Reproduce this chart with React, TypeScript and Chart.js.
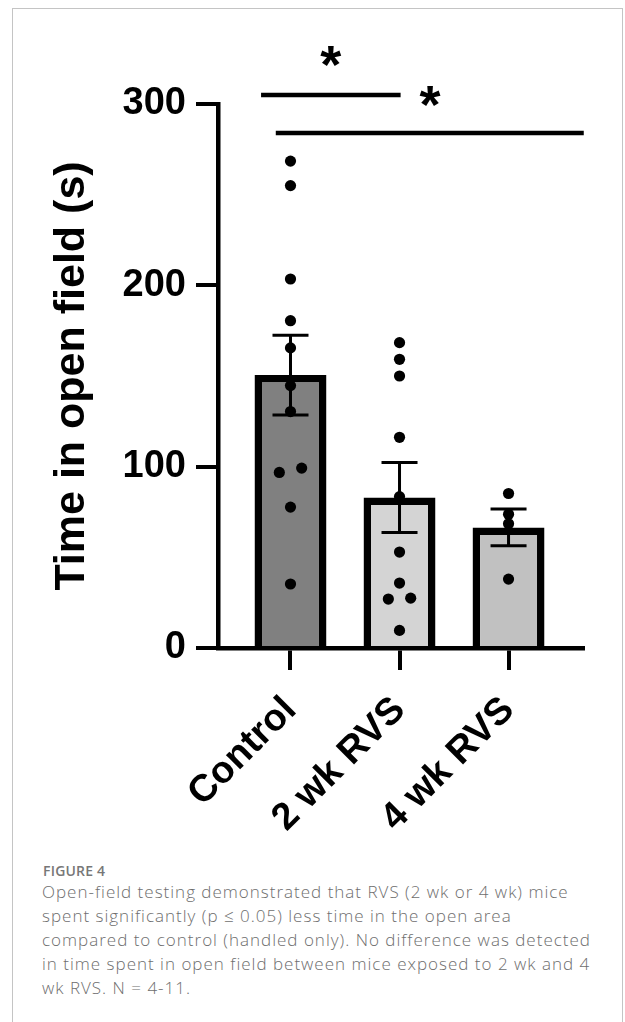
import React, { useEffect, useRef } from 'react';
import { Chart, registerables } from 'chart.js';

Chart.register(...registerables);

// ---------- data ----------
const categories = ['Control', '2 wk RVS', '4 wk RVS'];
const barMeans = [150.5, 83, 66.5];
const barSems = [22, 19.3, 10.1];
const controlValues = [268.5, 255, 203.5, 180.5, 165.5, 144.7, 130.4, 99.2, 96.8, 77.7, 35.3];
const wk2Values = [168.4, 159.2, 150, 116.2, 83.5, 52.9, 35.8, 27.5, 27, 9.7];
const wk4Values = [85.2, 73.8, 68.5, 38];
const groupValues = [controlValues, wk2Values, wk4Values];
const yTickValues = [0, 100, 200, 300];
const yAxisTitle = 'Time in open field (s)';

// significance annotations (in data units)
const sigLineFrom = [-0.27, -0.135];
const sigLineTo = [1.01, 2.69];
const sigLineY = [305, 284];
const sigStarX = [0.37, 1.28];
const sigStarY = [326, 304];
const sigLabel = ['*', '*'];

const captionTitle = 'FIGURE 4';
const captionLines = [
  'Open-field testing demonstrated that RVS (2 wk or 4 wk) mice',
  'spent significantly (p \u2264 0.05) less time in the open area',
  'compared to control (handled only). No difference was detected',
  'in time spent in open field between mice exposed to 2 wk and 4',
  'wk RVS. N = 4-11.',
];

// ---------- styles ----------
const barColors = ['#808080', '#d4d4d4', '#c1c1c1'];
const FONT = '"Liberation Sans", Arial, Helvetica, sans-serif';

function jitterOffsets(vals: number[]): number[] {
  const idx = vals.map((_, i) => i).sort((a, b) => vals[a] - vals[b]);
  const out = new Array(vals.length).fill(0);
  let start = 0;
  for (let k = 1; k <= idx.length; k++) {
    if (k === idx.length || vals[idx[k]] - vals[idx[k - 1]] >= 4) {
      const n = k - start;
      for (let j = 0; j < n; j++) out[idx[start + j]] = (j - (n - 1) / 2) * 0.205;
      start = k;
    }
  }
  return out;
}

const overlayPlugin = {
  id: 'overlay',
  afterDatasetDraw(chart: any, args: any) {
    if (args.index !== 1) return;
    const { ctx } = chart;
    const xs = chart.scales.x;
    const ys = chart.scales.y;
    ctx.save();
    ctx.strokeStyle = '#000';
    ctx.lineWidth = 3;
    barMeans.forEach((m, i) => {
      const px = xs.getPixelForValue(i);
      const top = ys.getPixelForValue(m + barSems[i]);
      const bot = ys.getPixelForValue(m - barSems[i]);
      ctx.beginPath();
      ctx.moveTo(px, top);
      ctx.lineTo(px, bot);
      ctx.moveTo(px - 18, top);
      ctx.lineTo(px + 18, top);
      ctx.moveTo(px - 18, bot);
      ctx.lineTo(px + 18, bot);
      ctx.stroke();
    });
    ctx.restore();
  },
  afterDraw(chart: any) {
    const { ctx } = chart;
    const xs = chart.scales.x;
    const ys = chart.scales.y;
    ctx.save();
    ctx.strokeStyle = '#000';
    ctx.lineWidth = 4.5;
    sigLineY.forEach((v, i) => {
      const y = ys.getPixelForValue(v);
      ctx.beginPath();
      ctx.moveTo(xs.getPixelForValue(sigLineFrom[i]), y);
      ctx.lineTo(xs.getPixelForValue(sigLineTo[i]), y);
      ctx.stroke();
    });
    ctx.fillStyle = '#000';
    ctx.font = `bold 54px ${FONT}`;
    ctx.textAlign = 'center';
    ctx.textBaseline = 'alphabetic';
    sigLabel.forEach((s, i) => {
      const cx = xs.getPixelForValue(sigStarX[i]);
      const cy = ys.getPixelForValue(sigStarY[i]);
      const m = ctx.measureText(s);
      const asc = m.actualBoundingBoxAscent;
      const desc = m.actualBoundingBoxDescent;
      const baseline = cy + (asc - desc) / 2;
      ctx.fillText(s, cx, baseline);
    });
    ctx.restore();
  },
};

export default function App() {
  const canvasRef = useRef<HTMLCanvasElement | null>(null);

  useEffect(() => {
    const canvas = canvasRef.current;
    if (!canvas) return;
    const points: { x: number; y: number }[] = [];
    groupValues.forEach((vals, g) => {
      const off = jitterOffsets(vals);
      vals.forEach((v, i) => points.push({ x: g + off[i], y: v }));
    });

    const chart = new Chart(canvas, {
      type: 'bar',
      data: {
        datasets: [
          {
            type: 'scatter',
            data: points,
            backgroundColor: '#000',
            borderWidth: 0,
            pointRadius: 5.6,
            pointHoverRadius: 5.6,
          } as any,
          {
            type: 'bar',
            data: barMeans.map((m, i) => ({ x: i, y: m })),
            backgroundColor: barColors,
            borderColor: '#000',
            borderWidth: 7.5,
            barPercentage: 0.66,
            categoryPercentage: 1,
          } as any,
        ],
      },
      options: {
        responsive: false,
        animation: false,
        events: [],
        layout: { padding: { top: 104, right: 42, left: 0, bottom: 0 } },
        plugins: { legend: { display: false }, tooltip: { enabled: false } },
        scales: {
          x: {
            type: 'linear',
            min: -0.665,
            max: 2.683,
            offset: false,
            afterBuildTicks: (axis: any) => {
              axis.ticks = categories.map((_, i) => ({ value: i }));
            },
            afterFit: (scale: any) => {
              scale.height = 202;
            },
            ticks: {
              callback: (v: any) => categories[v as number] ?? '',
              color: '#000',
              font: { family: FONT, size: 38, weight: 'bold' },
              minRotation: 45,
              maxRotation: 45,
              padding: 18,
              autoSkip: false,
            },
            grid: {
              offset: false,
              drawOnChartArea: false,
              drawTicks: true,
              tickLength: 22,
              lineWidth: 4,
              color: '#000',
            },
            border: { display: true, color: '#000', width: 4.5 },
          },
          y: {
            type: 'linear',
            min: 0,
            max: 300,
            afterBuildTicks: (axis: any) => {
              axis.ticks = yTickValues.map((v) => ({ value: v }));
            },
            afterFit: (scale: any) => {
              scale.width = 218;
            },
            ticks: {
              color: '#000',
              font: { family: FONT, size: 38, weight: 'bold' },
              padding: 10,
            },
            grid: {
              drawOnChartArea: false,
              drawTicks: true,
              tickLength: 22,
              lineWidth: 4,
              color: '#000',
            },
            border: { display: true, color: '#000', width: 4.5 },
            title: {
              display: true,
              text: yAxisTitle,
              color: '#000',
              font: { family: FONT, size: 43, weight: 'bold' },
              padding: { top: 46, bottom: 0 },
            },
          },
        },
      },
      plugins: [overlayPlugin],
    } as any);
    return () => chart.destroy();
  }, []);

  return (
    <div style={{ position: 'absolute', left: 0, top: 0, width: 625, height: 1022, overflow: 'hidden', background: '#fff' }}>
      <div
        style={{
          position: 'absolute',
          left: 12,
          top: 8,
          width: 611,
          height: 1014,
          borderTop: '1px solid #c4c4c4',
          borderLeft: '1px solid #c4c4c4',
          borderRight: '1px solid #c4c4c4',
          boxSizing: 'border-box',
        }}
      />
      <canvas
        ref={canvasRef}
        width={625}
        height={850}
        style={{ position: 'absolute', left: 0, top: 0, width: 625, height: 850 }}
      />
      <div
        style={{
          position: 'absolute',
          left: 43,
          top: 862,
          fontFamily: '"Open Sans", sans-serif',
          fontSize: 14,
          fontWeight: 600,
          color: '#777',
          letterSpacing: 0.2,
          lineHeight: '18px',
          whiteSpace: 'nowrap',
        }}
      >
        {captionTitle}
      </div>
      <div
        style={{
          position: 'absolute',
          left: 42,
          top: 880,
          fontFamily: '"Open Sans", sans-serif',
          fontSize: 17,
          fontWeight: 300,
          letterSpacing: 1.0,
          color: '#6e6e6e',
          lineHeight: '24px',
          whiteSpace: 'nowrap',
        }}
      >
        {captionLines.map((l, i) => (
          <div key={i}>{l}</div>
        ))}
      </div>
    </div>
  );
}
